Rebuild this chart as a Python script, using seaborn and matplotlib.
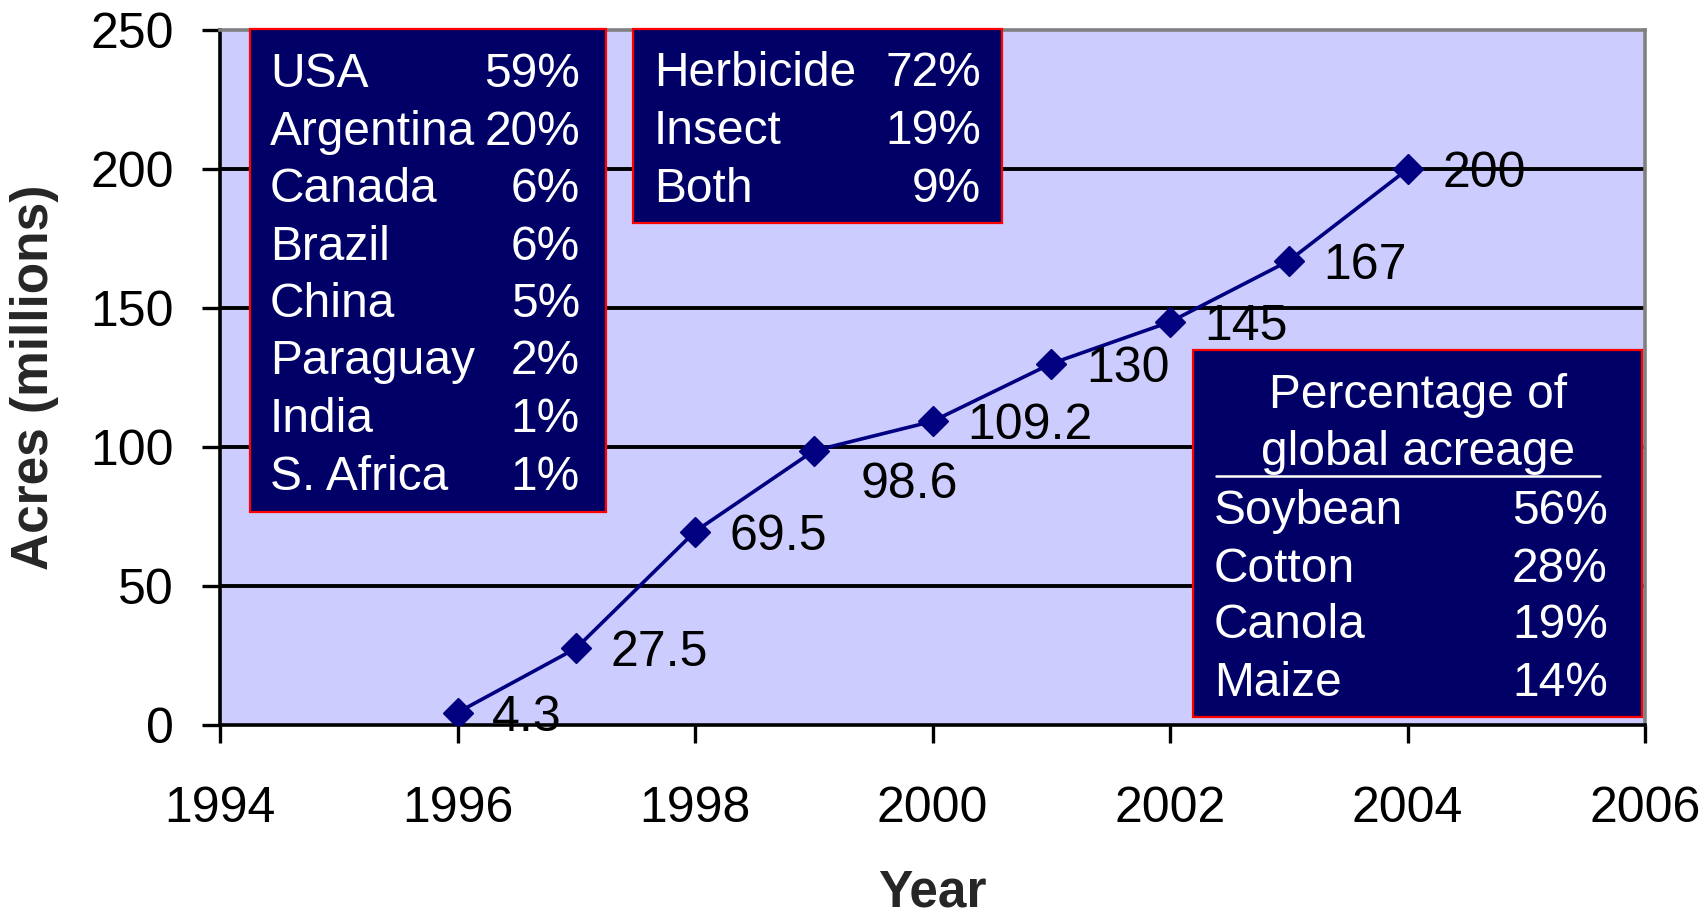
import matplotlib
matplotlib.use("Agg")
import matplotlib.pyplot as plt
import seaborn as sns
from matplotlib.patches import Rectangle
from matplotlib.lines import Line2D

# ---- data ----
years = [1996, 1997, 1998, 1999, 2000, 2001, 2002, 2003, 2004]
acres = [4.3, 27.5, 69.5, 98.6, 109.2, 130, 145, 167, 200]
point_labels = ["4.3", "27.5", "69.5", "98.6", "109.2", "130", "145", "167", "200"]

x_ticks = [1994, 1996, 1998, 2000, 2002, 2004, 2006]
y_ticks = [0, 50, 100, 150, 200, 250]

countries = ["USA", "Argentina", "Canada", "Brazil", "China", "Paraguay", "India", "S. Africa"]
country_pct = ["59%", "20%", "6%", "6%", "5%", "2%", "1%", "1%"]

traits = ["Herbicide", "Insect", "Both"]
trait_pct = ["72%", "19%", "9%"]

crop_title = ["Percentage of", "global acreage"]
crops = ["Soybean", "Cotton", "Canola", "Maize"]
crop_pct = ["56%", "28%", "19%", "14%"]

# ---- style ----
sns.set_style("ticks")
plt.rcParams["font.family"] = ["Liberation Sans", "DejaVu Sans"]

W, H = 1707, 921
fig = plt.figure(figsize=(W / 100, H / 100), dpi=100)

def fx(px):
    return px / W

def fy(py):
    return 1 - py / H

ax_l, ax_r, ax_t, ax_b = 220, 1645, 30.5, 724.5
ax = fig.add_axes([fx(ax_l), fy(ax_b), fx(ax_r) - fx(ax_l), fy(ax_t) - fy(ax_b)])
ax.set_facecolor("#CCCCFF")

navy = "#000080"
for yv in y_ticks[1:-1]:
    ax.axhline(yv, color="black", lw=2.8, zorder=1)

sns.lineplot(x=years, y=acres, ax=ax, color=navy, linewidth=2.6,
             marker="D", markersize=15, markeredgecolor=navy,
             markerfacecolor=navy, markeredgewidth=1, zorder=3)

# label placement (right of the point; one label sits below-right)
label_offsets = {"98.6": (34, -21)}
for xv, yv, lab in zip(years, acres, point_labels):
    off = label_offsets.get(lab, (25, 0))
    ax.annotate(lab, (xv, yv), xytext=off, textcoords="offset points",
                ha="left", va="center_baseline", fontsize=36, color="black",
                zorder=4)

ax.set_xlim(1994, 2006)
ax.set_ylim(0, 250)
ax.set_xticks(x_ticks)
ax.set_yticks(y_ticks)
ax.tick_params(axis="x", direction="out", length=13, width=2.4, pad=31,
               labelsize=36, colors="black")
ax.tick_params(axis="y", direction="out", length=13, width=2.4, pad=20,
               labelsize=36, colors="black")

for side in ["left", "bottom"]:
    ax.spines[side].set_color("black")
    ax.spines[side].set_linewidth(2.6)
for side in ["top", "right"]:
    ax.spines[side].set_visible(True)
    ax.spines[side].set_color("#808080")
    ax.spines[side].set_linewidth(2.6)

ax.set_xlabel("Year", fontsize=37, fontweight="bold")
ax.set_ylabel("Acres (millions)", fontsize=37, fontweight="bold")
ax.xaxis.set_label_coords(0.5, (ax_b - 893) / (ax_b - ax_t))
ax.xaxis.label.set_va("center")
ax.yaxis.set_label_coords((34 - ax_l) / (ax_r - ax_l), 0.5)
ax.yaxis.label.set_va("center")

# ---- boxes ----
box_face = "#000066"
box_edge = "#FF0000"

def add_box(x0, y0, x1, y1):
    r = Rectangle((fx(x0), fy(y1)), fx(x1) - fx(x0), fy(y0) - fy(y1),
                  transform=fig.transFigure, facecolor=box_face,
                  edgecolor=box_edge, linewidth=1.6, zorder=10)
    fig.patches.append(r)

def add_rows(names, vals, xl, xr, y0, dy, size=34.5):
    for i, (n, v) in enumerate(zip(names, vals)):
        yy = y0 + i * dy
        fig.text(fx(xl), fy(yy), n, color="white", fontsize=size,
                 ha="left", va="center_baseline", zorder=11)
        fig.text(fx(xr), fy(yy), v, color="white", fontsize=size,
                 ha="right", va="center_baseline", zorder=11)

add_box(250, 29, 606, 512)
add_rows(countries, country_pct, 270, 580, 69.5, 57.5)

add_box(633, 29, 1002, 223)
add_rows(traits, trait_pct, 654, 981, 68, 58)

add_box(1193, 350, 1642, 717)
for i, t in enumerate(crop_title):
    fig.text(fx(1418), fy(390 + i * 57), t, color="white", fontsize=34.5,
             ha="center", va="center_baseline", zorder=11)
fig.lines.append(Line2D([fx(1216), fx(1600)], [fy(476.5), fy(476.5)],
                        transform=fig.transFigure, color="white", lw=1.8,
                        zorder=11))
add_rows(crops, crop_pct, 1214, 1608, 507, 57)

fig.savefig("out.png", dpi=100)
